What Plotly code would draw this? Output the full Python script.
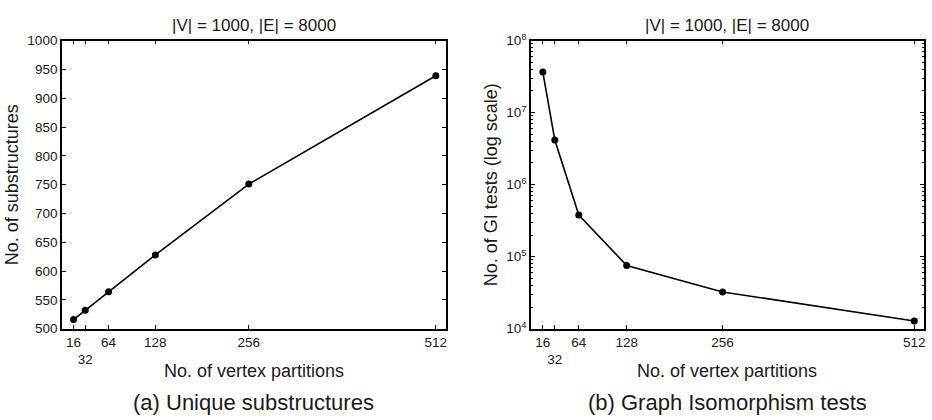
import plotly.graph_objects as go

partitions = [16, 32, 64, 128, 256, 512]
unique_substructures = [516, 532, 564, 628, 751, 939]
gi_tests = [3.66e7, 4.17e6, 3.79e5, 7.55e4, 3.24e4, 1.28e4]

x_tickvals = [16, 32, 64, 128, 256, 512]
x_ticktext = ["16", "<br>32", "64", "128", "256", "512"]
y1_tickvals = [500, 550, 600, 650, 700, 750, 800, 850, 900, 950, 1000]
y2_tickvals = [1e4, 1e5, 1e6, 1e7, 1e8]
y2_ticktext = ["10<sup>4</sup>", "10<sup>5</sup>", "10<sup>6</sup>", "10<sup>7</sup>", "10<sup>8</sup>"]
y2_minor = [m * 10 ** k for k in range(4, 8) for m in range(2, 10)]

FONT = "Liberation Sans, Arial, Helvetica, sans-serif"
TXT = "#1a1a1a"

line_style = dict(color="black", width=1.6)
marker_style = dict(color="black", size=7)

fig = go.Figure()
fig.add_trace(go.Scatter(x=partitions, y=unique_substructures, mode="lines+markers",
                         line=line_style, marker=marker_style, xaxis="x", yaxis="y",
                         showlegend=False))
fig.add_trace(go.Scatter(x=partitions, y=gi_tests, mode="lines+markers",
                         line=line_style, marker=marker_style, xaxis="x2", yaxis="y2",
                         showlegend=False))

ax_common = dict(showline=True, linecolor="black", linewidth=1.5, mirror="ticks",
                 ticks="inside", ticklen=4, tickcolor="black", tickwidth=1,
                 showgrid=False, zeroline=False, tickangle=0,
                 tickfont=dict(family=FONT, size=13.5, color=TXT))

ytop = 1 - 32 / 420
ybot = 1 - 333 / 420
title_font = dict(size=18, family=FONT, color=TXT)

fig.update_layout(
    width=932, height=420,
    margin=dict(l=0, r=0, t=0, b=0),
    paper_bgcolor="white", plot_bgcolor="white",
    font=dict(family=FONT, color=TXT),
    xaxis=dict(domain=[62 / 932, 447 / 932], anchor="y", range=[0, 526],
               tickmode="array", tickvals=x_tickvals, ticktext=x_ticktext,
               **ax_common),
    yaxis=dict(domain=[ybot, ytop], anchor="x", range=[500, 1000],
               tickmode="array", tickvals=y1_tickvals,
               title=dict(text="No. of substructures", font=title_font, standoff=4),
               **ax_common),
    xaxis2=dict(domain=[532 / 932, 926 / 932], anchor="y2", range=[0, 525],
                tickmode="array", tickvals=x_tickvals, ticktext=x_ticktext,
                **ax_common),
    yaxis2=dict(domain=[ybot, ytop], anchor="x2", type="log", range=[4, 8],
                tickmode="array", tickvals=y2_tickvals, ticktext=y2_ticktext,
                minor=dict(tickmode="array", tickvals=y2_minor, ticks="inside",
                           ticklen=2.5, tickcolor="black", tickwidth=1),
                title=dict(text="No. of GI tests (log scale)", font=title_font, standoff=4),
                **ax_common),
)

centers = [254.5 / 932, 729 / 932]
for cx in centers:
    fig.add_annotation(text="|V| = 1000, |E| = 8000", x=cx, y=1 - 16 / 420,
                       xref="paper", yref="paper", showarrow=False,
                       xanchor="center", yanchor="middle",
                       font=dict(family=FONT, size=17, color=TXT))
    fig.add_annotation(text="No. of vertex partitions", x=cx, y=1 - 377 / 420,
                       xref="paper", yref="paper", showarrow=False,
                       xanchor="center", yanchor="middle", font=title_font)

captions = ["(a) Unique substructures", "(b) Graph Isomorphism tests"]
for cx, c in zip(centers, captions):
    fig.add_annotation(text=c, x=cx, y=1 - 410 / 420, xref="paper", yref="paper",
                       showarrow=False, xanchor="center", yanchor="middle",
                       font=dict(family=FONT, size=22, color=TXT))

fig.write_html("out.html")
